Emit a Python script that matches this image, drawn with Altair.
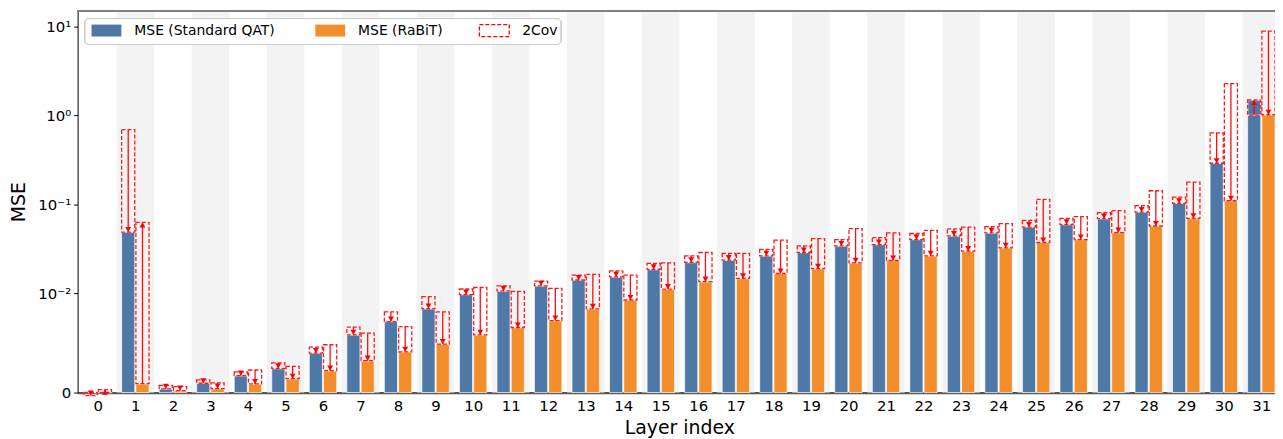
import math
import altair as alt
import pandas as pd

# ---------------- data ----------------
layers = list(range(32))
methods = ["MSE (Standard QAT)", "MSE (RaBiT)"]
colors = ["#4e79a7", "#f28e2b"]
cov_label = ["2Cov"]

qat_mse = [0.00001, 0.049, 0.00037, 0.00094, 0.00171, 0.00244, 0.00399, 0.00583,
           0.00717, 0.00848, 0.0099, 0.0107, 0.0122, 0.0142, 0.0154, 0.0187,
           0.0224, 0.0237, 0.0265, 0.0289, 0.0342, 0.0355, 0.0404, 0.0443,
           0.0479, 0.0558, 0.0598, 0.0693, 0.0822, 0.103, 0.29, 1.49]
qat_cov_end = [-0.0003, 0.69, 0.00073, 0.00128, 0.00208, 0.00299, 0.00459, 0.0066,
               0.00815, 0.00968, 0.01125, 0.0122, 0.0138, 0.0161, 0.018, 0.0218,
               0.0265, 0.0282, 0.0314, 0.0342, 0.0404, 0.0425, 0.0472, 0.0531,
               0.0563, 0.0664, 0.0698, 0.0809, 0.0968, 0.121, 0.634, 1.006]
qat_arrow_to_bar = [False] + [True] * 31

rabit_mse = [0.00001, 0.0009, 0.0002, 0.0004, 0.00087, 0.0014, 0.00221, 0.00322,
             0.00412, 0.0049, 0.00583, 0.00657, 0.00727, 0.00845, 0.00935, 0.0112,
             0.0136, 0.0148, 0.0168, 0.019, 0.0221, 0.0235, 0.0265, 0.0299,
             0.0326, 0.0374, 0.0404, 0.0484, 0.0573, 0.0698, 0.11, 1.015]
rabit_cov_end = [0.0003, 0.063, 0.0006, 0.00098, 0.00228, 0.00265, 0.00483, 0.006,
                 0.00667, 0.00815, 0.0117, 0.0106, 0.01146, 0.0164, 0.0161, 0.0221,
                 0.0289, 0.0282, 0.0397, 0.0414, 0.0536, 0.0479, 0.0513, 0.0558,
                 0.0609, 0.114, 0.073, 0.0852, 0.1425, 0.178, 2.27, 8.8]
rabit_arrow_to_bar = [False, False] + [True] * 30

tick_values = [0, 0.01, 0.1, 1, 10]
tick_labels = ["0", "10\u207b\u00b2", "10\u207b\u00b9", "10\u2070", "10\u00b9"]

# ---------------- symlog (linthresh 1e-2, linscale 1) ----------------
LT = 0.01
LS = 1.0 / (1.0 - 1.0 / 10.0)


def symlog(v):
    if abs(v) <= LT:
        return v / LT * LS
    return math.copysign(LS + math.log10(abs(v) / LT), v)


def symlog_expr(f):
    return (f"(abs(datum.{f}) <= {LT} ? datum.{f} / {LT} * {LS} : "
            f"(datum.{f} > 0 ? 1 : -1) * ({LS} + log(abs(datum.{f}) / {LT}) / LN10))")


tick_pos = [symlog(v) for v in tick_values]
label_expr = ""
for k in range(len(tick_pos) - 1):
    mid = (tick_pos[k] + tick_pos[k + 1]) / 2
    label_expr += f"datum.value < {mid} ? '{tick_labels[k]}' : "
label_expr += f"'{tick_labels[-1]}'"

rows = []
for i in layers:
    rows.append(dict(layer=i, method=methods[0], side=-1, mse=qat_mse[i],
                     cov=qat_cov_end[i], to_bar=qat_arrow_to_bar[i], cl=cov_label[0]))
    rows.append(dict(layer=i, method=methods[1], side=1, mse=rabit_mse[i],
                     cov=rabit_cov_end[i], to_bar=rabit_arrow_to_bar[i], cl=cov_label[0]))
df = pd.DataFrame(rows)
bands = pd.DataFrame({"layer": [i for i in layers if i % 2 == 1]})

# ---------------- layout ----------------
W = 1204
H = 384
STEP = 37.74
XMIN = (78 - 98.3) / STEP
XMAX = XMIN + W / STEP
YMAX = H / 89.6

xscale = alt.Scale(domain=[XMIN, XMAX], nice=False, zero=False)
yscale = alt.Scale(domain=[0, YMAX], nice=False, zero=False)

X_AX = alt.Axis(values=layers, format="d", grid=False, ticks=False,
                domainColor="#555555", domainWidth=2.2,
                labelFontSize=15, labelPadding=6, labelColor="black",
                title="Layer index", titleFontSize=19,
                titleFontWeight="normal", titleColor="black",
                titlePadding=5, titleX=605)
Y_AX = alt.Axis(values=tick_pos, labelExpr=label_expr, grid=False,
                domainColor="black", domainWidth=1, tickColor="black",
                tickSize=4, labelFontSize=15, labelColor="black",
                labelPadding=3, title="MSE", titleFontSize=19,
                titleFontWeight="normal", titleColor="black",
                titlePadding=9)

base = alt.Chart(df).transform_calculate(
    x0="datum.layer + (datum.side < 0 ? -0.365 : 0.015)",
    x1="datum.layer + (datum.side < 0 ? -0.015 : 0.365)",
    ymse=symlog_expr("mse"),
    ycov=symlog_expr("cov"),
).transform_calculate(
    xc="(datum.x0 + datum.x1) / 2",
    y_from="datum.to_bar ? datum.ycov : datum.ymse",
    y_to="datum.to_bar ? datum.ymse : datum.ycov",
).transform_calculate(
    dir="datum.y_to < datum.y_from ? 'down' : 'up'"
)

band_layer = alt.Chart(bands).transform_calculate(
    b0="datum.layer - 0.5", b1="datum.layer + 0.5"
).mark_rect(color="#f3f3f3").encode(
    x=alt.X("b0:Q", scale=xscale, axis=X_AX),
    x2="b1:Q",
    y=alt.value(0),
    y2=alt.value(H),
)

PATCH = "M-1,-1H4V1H-1Z"

bars = base.mark_rect(stroke="white", strokeWidth=0.7).encode(
    x=alt.X("x0:Q", scale=xscale, axis=X_AX),
    x2="x1:Q",
    y=alt.Y("ymse:Q", scale=yscale, axis=Y_AX),
    y2=alt.datum(0),
    color=alt.Color("method:N",
                    scale=alt.Scale(domain=methods, range=colors),
                    legend=alt.Legend(
                        orient="none", legendX=13, legendY=13,
                        direction="horizontal", title=None,
                        symbolType=PATCH, symbolSize=144,
                        symbolStrokeWidth=0, symbolOpacity=1,
                        labelFontSize=14, labelColor="black",
                        labelOffset=30, columnPadding=39, padding=0)),
)

box_under = base.mark_rect(fillOpacity=0, stroke="white", strokeWidth=1.6,
                           strokeOpacity=0.6).encode(
    x=alt.X("x0:Q", scale=xscale, axis=X_AX), x2="x1:Q",
    y=alt.Y("ymse:Q", scale=yscale, axis=Y_AX), y2="ycov:Q")

box = base.mark_rect(fill="white", fillOpacity=0, strokeWidth=1.3,
                     strokeDash=[4, 2], strokeOpacity=0.9).encode(
    x=alt.X("x0:Q", scale=xscale, axis=X_AX), x2="x1:Q",
    y=alt.Y("ymse:Q", scale=yscale, axis=Y_AX), y2="ycov:Q",
    stroke=alt.Stroke("cl:N",
                      scale=alt.Scale(domain=cov_label, range=["red"]),
                      legend=alt.Legend(
                          orient="none", legendX=403, legendY=13,
                          title=None, symbolType=PATCH, symbolSize=144,
                          symbolStrokeColor="red", symbolStrokeWidth=1.3,
                          symbolDash=[4, 2],
                          symbolFillColor="white", symbolOpacity=1,
                          labelFontSize=14, labelColor="black",
                          labelOffset=30, padding=0)))

shaft = base.mark_rule(color="red", strokeWidth=1.3, opacity=0.95).encode(
    x=alt.X("xc:Q", scale=xscale, axis=X_AX),
    y=alt.Y("y_from:Q", scale=yscale, axis=Y_AX), y2="y_to:Q")

heads = base.mark_point(filled=True, color="red", opacity=1, size=36).encode(
    x=alt.X("xc:Q", scale=xscale, axis=X_AX),
    y=alt.Y("y_to:Q", scale=yscale, axis=Y_AX),
    shape=alt.Shape("dir:N", legend=None,
                    scale=alt.Scale(domain=["down", "up"],
                                    range=["M0,0L-1,-1.7L1,-1.7Z",
                                           "M0,0L-1,1.7L1,1.7Z"])))

legend_frame = alt.Chart(bands).mark_rect(
    fill="white", fillOpacity=0.8, stroke="#cccccc", strokeWidth=1, cornerRadius=4
).encode(x=alt.value(7.5), x2=alt.value(486), y=alt.value(8), y2=alt.value(34))

top_spine = alt.Chart(bands).mark_rule(color="#808080", strokeWidth=1.5).encode(
    x=alt.value(0), x2=alt.value(W), y=alt.value(0))

chart = alt.layer(band_layer, bars, box_under, box, shaft, heads,
                  legend_frame, top_spine).properties(
    width=W, height=H,
    autosize=alt.AutoSizeParams(type="none"),
    padding={"left": 70, "top": 1.5, "right": 0, "bottom": 45.5},
).configure(font="DejaVu Sans").configure_view(stroke=None)

chart.save("out.html", embed_options={"renderer": "svg", "actions": False})
